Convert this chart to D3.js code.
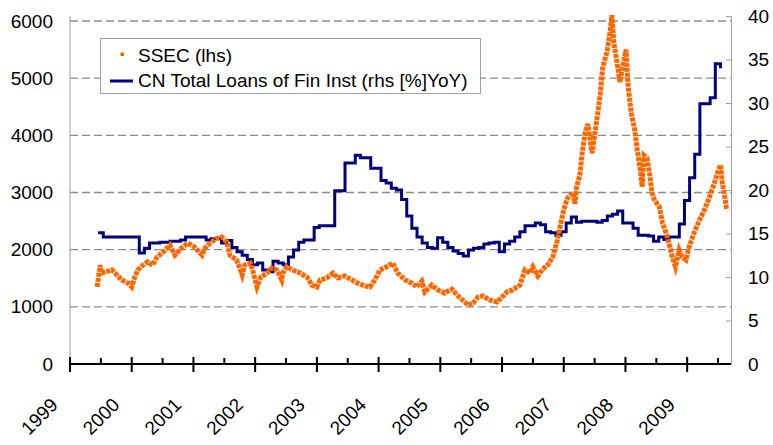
<!DOCTYPE html>
<html>
<head>
<meta charset="utf-8">
<script src="https://cdn.jsdelivr.net/npm/d3@7"></script>
<style>
  body { margin: 0; background: #fff; }
  svg { display: block; }
  svg text { font-family: "Liberation Sans", Arial, sans-serif; }
</style>
</head>
<body>
<div id="chart"></div>
<script>
// SSEC index (lhs): time in decimal years
const ssecTime = [
  1999.44, 1999.49, 1999.51, 1999.57, 1999.68, 1999.76, 1999.84, 1999.94, 2000.00, 2000.05,
  2000.10, 2000.18, 2000.26, 2000.34, 2000.41, 2000.51, 2000.62, 2000.70, 2000.81, 2000.91,
  2001.02, 2001.14, 2001.19, 2001.27, 2001.38, 2001.46, 2001.54, 2001.59, 2001.70, 2001.79,
  2001.83, 2001.92, 2001.95, 2002.03, 2002.09, 2002.19, 2002.27, 2002.35, 2002.43, 2002.45,
  2002.51, 2002.61, 2002.73, 2002.84, 2002.92, 2003.00, 2003.05, 2003.16, 2003.26, 2003.34,
  2003.45, 2003.57, 2003.66, 2003.78, 2003.86, 2003.94, 2004.02, 2004.13, 2004.23, 2004.31,
  2004.43, 2004.54, 2004.62, 2004.70, 2004.75, 2004.86, 2004.96, 2005.07, 2005.19, 2005.27,
  2005.36, 2005.45, 2005.53, 2005.61, 2005.69, 2005.80, 2005.92, 2006.00, 2006.08, 2006.17,
  2006.29, 2006.37, 2006.45, 2006.50, 2006.58, 2006.66, 2006.74, 2006.82, 2006.89, 2006.94,
  2007.00, 2007.06, 2007.15, 2007.18, 2007.21, 2007.26, 2007.30, 2007.35, 2007.39, 2007.43,
  2007.46, 2007.50, 2007.54, 2007.59, 2007.63, 2007.70, 2007.75, 2007.78, 2007.81, 2007.86,
  2007.91, 2007.96, 2008.01, 2008.04, 2008.07, 2008.10, 2008.15, 2008.19, 2008.24, 2008.27,
  2008.30, 2008.35, 2008.39, 2008.43, 2008.47, 2008.55, 2008.60, 2008.67, 2008.72, 2008.76,
  2008.81, 2008.87, 2008.92, 2008.98, 2009.03, 2009.11, 2009.20, 2009.28, 2009.36, 2009.44,
  2009.49, 2009.54, 2009.57, 2009.61, 2009.64
];
const ssecValue = [
  1350, 1730, 1590, 1610, 1645, 1557, 1470, 1415, 1347, 1522,
  1645, 1730, 1785, 1730, 1870, 1960, 2080, 1905, 2030, 2115,
  2045, 1905, 2030, 2115, 2200, 2220, 2135, 1905, 1820, 1557,
  1730, 1765, 1680, 1347, 1520, 1590, 1680, 1645, 1470, 1590,
  1700, 1645, 1590, 1520, 1380, 1347, 1470, 1505, 1590, 1505,
  1540, 1470, 1415, 1365, 1347, 1470, 1645, 1700, 1765, 1590,
  1470, 1415, 1347, 1450, 1260, 1380, 1295, 1240, 1310, 1205,
  1120, 1030, 1065, 1170, 1190, 1120, 1085, 1170, 1260, 1295,
  1380, 1645, 1590, 1700, 1540, 1660, 1730, 1870, 2135, 2400,
  2700, 2900, 3000, 2800, 3100, 3300, 3700, 4060, 4200, 3900,
  3690, 4000, 4300, 4705, 5180, 5455, 5805, 6100, 5630, 5300,
  4930, 5230, 5500, 4900, 4600, 4350, 4100, 3750, 3400, 3100,
  3650, 3600, 3340, 3000, 2870, 2745, 2465, 2255, 2045, 1870,
  1700, 1995, 1870, 1820, 2045, 2290, 2520, 2695, 2920, 3165,
  3340, 3480, 3165, 2920, 2695
];

// CN total loans of financial institutions, % YoY (rhs), monthly from Jun 1999
const loanStart = [1999, 6];
const loanValue = [
  15.1, 14.6, 14.6, 14.6, 14.6, 14.6, 14.6, 14.6, 12.75, 13.3,
  13.9, 13.9, 14.0, 14.0, 14.1, 14.1, 14.25, 14.6, 14.6, 14.6,
  14.6, 14.25, 14.4, 14.4, 13.9, 14.2, 13.4, 12.9, 12.5, 12.0,
  11.4, 11.6, 10.8, 10.6, 11.8, 11.6, 11.4, 12.3, 13.1, 14.0,
  14.25, 14.25, 15.7, 15.9, 15.9, 15.9, 19.9, 19.9, 23.1, 23.1,
  24.0, 23.7, 23.7, 22.5, 22.5, 21.1, 20.8, 20.2, 20.0, 18.9,
  17.0, 15.6, 14.6, 13.9, 13.4, 13.3, 14.5, 14.0, 13.4, 13.0,
  12.7, 12.4, 13.1, 13.3, 13.4, 13.8, 13.9, 14.0, 12.9, 13.8,
  14.1, 14.6, 15.2, 15.9, 15.9, 16.2, 16.0, 15.2, 15.1, 14.8,
  15.2, 16.2, 16.9, 16.3, 16.4, 16.4, 16.4, 16.3, 16.5, 17.0,
  17.2, 17.6, 16.2, 16.2, 15.6, 14.8, 14.8, 14.7, 14.1, 14.6,
  14.3, 14.6, 14.6, 16.1, 18.8, 21.4, 24.1, 29.9, 29.9, 30.6,
  34.5, 34.0
];

const years = [1999, 2000, 2001, 2002, 2003, 2004, 2005, 2006, 2007, 2008, 2009];
const leftTicks = [0, 1000, 2000, 3000, 4000, 5000, 6000];
const rightTicks = [0, 5, 10, 15, 20, 25, 30, 35, 40];
const legendLabels = ["SSEC (lhs)", "CN Total Loans of Fin Inst (rhs [%]YoY)"];

const width = 773, height = 445;
const orange = "#ff6600", navy = "#000080";
const font = "'Liberation Sans', Arial, sans-serif";

const x = d3.scaleLinear().domain([1999, 2009.71]).range([70, 731]);
const yL = d3.scaleLinear().domain([0, 6000]).range([364, 21]);
const yR = d3.scaleLinear().domain([0, 40]).range([364, 16]);

const svg = d3.select("#chart").append("svg")
  .attr("width", width)
  .attr("height", height)
  .attr("font-family", font);

// gridlines (lhs)
svg.append("g")
  .selectAll("line")
  .data(leftTicks.filter(d => d > 0))
  .join("line")
  .attr("x1", x.range()[0]).attr("x2", x.range()[1])
  .attr("y1", d => yL(d)).attr("y2", d => yL(d))
  .attr("stroke", "#8c8c8c")
  .attr("stroke-width", 1.3)
  .attr("stroke-dasharray", "8,4");

// vertical axis lines
svg.append("line")
  .attr("x1", 70).attr("x2", 70).attr("y1", 16).attr("y2", 364)
  .attr("stroke", "#a0a0a0");

const rAxis = d3.axisRight(yR).tickValues(rightTicks).tickSize(-5).tickPadding(17);
svg.append("g")
  .attr("transform", `translate(${x.range()[1]},0)`)
  .call(rAxis)
  .attr("font-family", font)
  .call(g => g.select(".domain").attr("stroke", "#a0a0a0"))
  .call(g => g.selectAll(".tick line").attr("stroke", "#a0a0a0"))
  .call(g => g.selectAll(".tick text").attr("font-size", 19).attr("fill", "#000"));

const lAxis = d3.axisLeft(yL).tickValues(leftTicks).tickFormat(d3.format("d")).tickSize(0).tickPadding(17);
svg.append("g")
  .attr("transform", "translate(70,0)")
  .call(lAxis)
  .attr("font-family", font)
  .call(g => g.select(".domain").remove())
  .call(g => g.selectAll(".tick text").attr("font-size", 19).attr("fill", "#000"));

// loans step line
const loanData = loanValue.map((v, i) => {
  const m = loanStart[1] - 1 + i;
  return { t: loanStart[0] + (m + 0.47) / 12, v };
});
svg.append("path")
  .datum(loanData)
  .attr("fill", "none")
  .attr("stroke", navy)
  .attr("stroke-width", 3)
  .attr("d", d3.line().curve(d3.curveStepAfter).x(d => x(d.t)).y(d => yR(d.v)));

// SSEC dotted band
const ssecData = ssecTime.map((t, i) => ({ t, v: ssecValue[i] }));
svg.append("path")
  .datum(ssecData)
  .attr("fill", "none")
  .attr("stroke", orange)
  .attr("stroke-width", 5)
  .attr("stroke-dasharray", "4,1")
  .attr("d", d3.line().x(d => x(d.t)).y(d => yL(d.v)));

// x axis
const xg = svg.append("g");
xg.append("line")
  .attr("x1", 70).attr("x2", 731).attr("y1", 364).attr("y2", 364)
  .attr("stroke", "#000").attr("stroke-width", 2);
xg.selectAll("line.major")
  .data(years)
  .join("line")
  .attr("class", "major")
  .attr("x1", d => x(d)).attr("x2", d => x(d))
  .attr("y1", 357).attr("y2", 372)
  .attr("stroke", "#000").attr("stroke-width", 2);
xg.selectAll("line.minor")
  .data(years.map(d => d + 0.5))
  .join("line")
  .attr("class", "minor")
  .attr("x1", d => x(d)).attr("x2", d => x(d))
  .attr("y1", 358).attr("y2", 364)
  .attr("stroke", "#000").attr("stroke-width", 2);
xg.selectAll("text")
  .data(years)
  .join("text")
  .attr("transform", d => `translate(${x(d) - 11},406) rotate(-45)`)
  .attr("text-anchor", "end")
  .attr("font-size", 19)
  .text(d => d);

// legend
const lg = svg.append("g");
lg.append("rect")
  .attr("x", 100.5).attr("y", 38.5).attr("width", 380).attr("height", 55)
  .attr("fill", "#fff").attr("stroke", "#a0a0a0");
lg.append("rect")
  .attr("x", 120.5).attr("y", 52.5).attr("width", 3.5).attr("height", 3.5)
  .attr("fill", orange);
lg.append("line")
  .attr("x1", 110).attr("x2", 133).attr("y1", 81).attr("y2", 81)
  .attr("stroke", navy).attr("stroke-width", 3);
lg.selectAll("text")
  .data(legendLabels)
  .join("text")
  .attr("x", 138)
  .attr("y", (d, i) => 62 + i * 25)
  .attr("font-size", 19)
  .text(d => d);
</script>
</body>
</html>
